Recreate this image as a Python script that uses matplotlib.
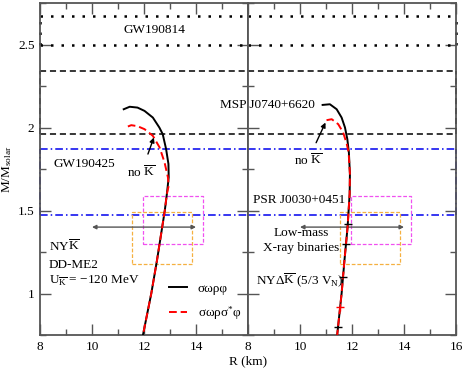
import numpy as np
import matplotlib
matplotlib.use("Agg")
import matplotlib.pyplot as plt
from matplotlib.ticker import MultipleLocator, FixedLocator, FixedFormatter

plt.rcParams['font.family'] = ['Liberation Serif', 'DejaVu Serif']
plt.rcParams['mathtext.fontset'] = 'custom'
plt.rcParams['mathtext.rm'] = 'Liberation Serif'
plt.rcParams['mathtext.it'] = 'Liberation Serif:italic'
plt.rcParams['mathtext.bf'] = 'Liberation Serif:bold'

# ---------------- data ----------------
# Left panel (NYK, DD-ME2)
left_black_R = [11.22, 11.45, 11.75, 12.02, 12.34, 12.59, 12.72, 12.85, 12.94, 12.95, 12.88, 12.80, 12.70, 12.50, 12.28, 11.96]
left_black_M = [2.110, 2.125, 2.120, 2.100, 2.060, 2.000, 1.960, 1.870, 1.780, 1.700, 1.600, 1.500, 1.400, 1.200, 1.000, 0.750]
left_red_R = [11.38, 11.51, 11.75, 12.02, 12.34, 12.60, 12.79, 12.92, 12.95, 12.88, 12.80, 12.70, 12.50, 12.28, 11.96]
left_red_M = [2.006, 2.014, 2.008, 1.990, 1.950, 1.880, 1.790, 1.700, 1.650, 1.600, 1.500, 1.400, 1.200, 1.000, 0.750]

# Right panel (NY Delta K)
right_black_R = [10.87, 11.15, 11.41, 11.60, 11.73, 11.82, 11.88, 11.92, 11.91, 11.87, 11.83, 11.71, 11.60, 11.43]
right_black_M = [2.136, 2.140, 2.110, 2.060, 2.000, 1.930, 1.850, 1.720, 1.600, 1.500, 1.400, 1.200, 1.000, 0.750]
right_red_R = [11.02, 11.22, 11.47, 11.66, 11.80, 11.87, 11.92, 11.91, 11.87, 11.83, 11.71, 11.60, 11.43]
right_red_M = [2.044, 2.050, 2.020, 1.970, 1.900, 1.850, 1.720, 1.600, 1.500, 1.400, 1.200, 1.000, 0.750]
right_black_mark_M = [1.42, 1.30, 1.10, 0.80]
right_red_mark_M = [0.92]

# Observational constraints
gw190814_band = [2.50, 2.67]
msp_j0740_band = [1.96, 2.34]
gw190425_band = [1.47, 1.87]
lmxb_R = [10.0, 14.0]
lmxb_M = 1.40
psr_miller_R = [11.96, 14.26]
psr_miller_M = [1.30, 1.59]
psr_riley_R = [11.52, 13.85]
psr_riley_M = [1.18, 1.49]

R_min, R_max = 8, 16
M_min, M_max = 0.75, 2.75

# ---------------- figure ----------------
fig = plt.figure(figsize=(4.63, 3.68), dpi=100)
W, H = 463, 368
axL = fig.add_axes([40 / W, (H - 335) / H, 208 / W, 332 / H])
axR = fig.add_axes([248 / W, (H - 335) / H, 208 / W, 332 / H], sharey=axL)

spine_col = '#555555'
fs = 9.5

for ax in (axL, axR):
    ax.set_xlim(R_min, R_max)
    ax.set_ylim(M_min, M_max)
    for s in ax.spines.values():
        s.set_color(spine_col)
        s.set_linewidth(1.3)
    ax.xaxis.set_major_locator(MultipleLocator(2))
    ax.xaxis.set_minor_locator(MultipleLocator(1))
    ax.yaxis.set_major_locator(MultipleLocator(0.5))
    ax.yaxis.set_minor_locator(MultipleLocator(0.25))
    ax.tick_params(which='both', direction='in', top=True, right=True,
                   color=spine_col, width=1.0, labelsize=fs, pad=4)
    ax.tick_params(which='major', length=8)
    ax.tick_params(which='minor', length=4)

axL.xaxis.set_major_locator(FixedLocator([8, 10, 12, 14, 16]))
axL.xaxis.set_major_formatter(FixedFormatter(['8', '10', '12', '14', '']))
axL.yaxis.set_major_locator(FixedLocator([1.0, 1.5, 2.0, 2.5]))
axL.yaxis.set_major_formatter(FixedFormatter(['1', '1.5', '2', '2.5']))
axR.tick_params(axis='y', labelleft=False)

dot_ls = (0, (1, 3.2))
dash_ls = (0, (4, 2.5))
dd_ls = (0, (5, 2, 1, 2))
blue = '#0000ee'

# Bands spanning both panels
for ax, side in ((axL, R_min), (axR, R_max)):
    for band, ls, col, lw in ((gw190814_band, dot_ls, 'black', 1.8),
                              (msp_j0740_band, dash_ls, 'black', 1.1),
                              (gw190425_band, dd_ls, blue, 1.1)):
        for m in band:
            ax.plot([R_min, R_max], [m, m], ls=ls, color=col, lw=lw, zorder=2)
        ax.plot([side, side], band, ls=ls, color=col, lw=lw, zorder=2, clip_on=False)

    # PSR J0030 boxes
    ax.plot([psr_miller_R[0], psr_miller_R[1], psr_miller_R[1], psr_miller_R[0], psr_miller_R[0]],
            [psr_miller_M[0], psr_miller_M[0], psr_miller_M[1], psr_miller_M[1], psr_miller_M[0]],
            ls=(0, (3, 1.5)), color='#f050f0', lw=0.9, zorder=2)
    ax.plot([psr_riley_R[0], psr_riley_R[1], psr_riley_R[1], psr_riley_R[0], psr_riley_R[0]],
            [psr_riley_M[0], psr_riley_M[0], psr_riley_M[1], psr_riley_M[1], psr_riley_M[0]],
            ls=(0, (3, 1.5)), color='#f5b040', lw=0.9, zorder=2)
    # LMXB arrow
    ax.annotate('', xy=(lmxb_R[0], lmxb_M), xytext=(lmxb_R[1], lmxb_M),
                arrowprops=dict(arrowstyle='<|-|>', color='#555555', lw=1.0,
                                mutation_scale=6, shrinkA=0, shrinkB=0), zorder=3)

# Curves
axL.plot(left_black_R, left_black_M, color='black', lw=1.4, zorder=4, label='σωρφ')
axL.plot(left_red_R, left_red_M, color='red', lw=1.4, ls=(0, (4, 2)), zorder=5,
         label='σωρσ$^{*}$φ')
axR.plot(right_black_R, right_black_M, color='black', lw=1.4, zorder=4)
axR.plot(right_red_R, right_red_M, color='red', lw=1.4, ls=(0, (4, 2)), zorder=5)

rb_M_sorted = np.array(right_black_M[::-1])
rb_R_sorted = np.array(right_black_R[::-1])
mk_R = np.interp(right_black_mark_M, rb_M_sorted[:8], rb_R_sorted[:8])
axR.plot(mk_R, right_black_mark_M, ls='none', marker='_', ms=6, mew=1.0, color='black', zorder=6)
mk_R2 = np.interp(right_red_mark_M, rb_M_sorted[:8], rb_R_sorted[:8])
axR.plot(mk_R2, right_red_mark_M, ls='none', marker='+', ms=6, mew=1.0, color='red', zorder=6)

# Texts
axL.text(12.41, 2.585, 'GW190814', ha='center', va='center', fontsize=fs)
axR.text(10.57, 2.136, 'MSP J0740+6620', ha='right', va='center', fontsize=fs, clip_on=False)
axL.text(9.72, 1.78, 'GW190425', ha='center', va='center', fontsize=fs)
axR.text(8.18, 1.566, 'PSR J0030+0451', ha='left', va='center', fontsize=fs)
axR.text(10.06, 1.32, 'Low-mass\nX-ray binaries', ha='center', va='center', fontsize=fs,
         linespacing=1.25)
axR.text(8.3, 1.08, r'NY$\Delta\overline{\rm K}$ (5/3 V$_{\rm N}$)', ha='left', va='center', fontsize=fs)

axL.text(8.34, 1.285, r'NY$\overline{\rm K}$', ha='left', va='center', fontsize=fs)
axL.text(8.34, 1.17, 'DD-ME2', ha='left', va='center', fontsize=fs)
axL.text(8.34, 1.075, r'U$_{\overline{\rm K}}$ = $-$120 MeV', ha='left', va='center', fontsize=fs)

axL.annotate(r'no $\overline{\rm K}$', xy=(12.38, 1.94), xytext=(11.9, 1.73),
             ha='center', va='center', fontsize=fs,
             arrowprops=dict(arrowstyle='-|>', color='black', lw=1.0, mutation_scale=7,
                             shrinkA=6, shrinkB=0), zorder=6)
axR.annotate(r'no $\overline{\rm K}$', xy=(10.98, 2.03), xytext=(10.3, 1.80),
             ha='center', va='center', fontsize=fs,
             arrowprops=dict(arrowstyle='-|>', color='black', lw=1.0, mutation_scale=7,
                             shrinkA=6, shrinkB=0), zorder=6)

leg = axL.legend(loc='lower left', bbox_to_anchor=(0.62, 0.04), frameon=False, fontsize=fs,
                 handlelength=1.4, handletextpad=0.8, labelspacing=0.7, borderpad=0,
                 borderaxespad=0)

axL.set_ylabel(r'M/M$_{\rm solar}$', fontsize=fs, labelpad=3)
fig.text(248 / W, 1 - 361 / H, 'R (km)', ha='center', va='center', fontsize=fs)

fig.savefig('out.png', dpi=100)
